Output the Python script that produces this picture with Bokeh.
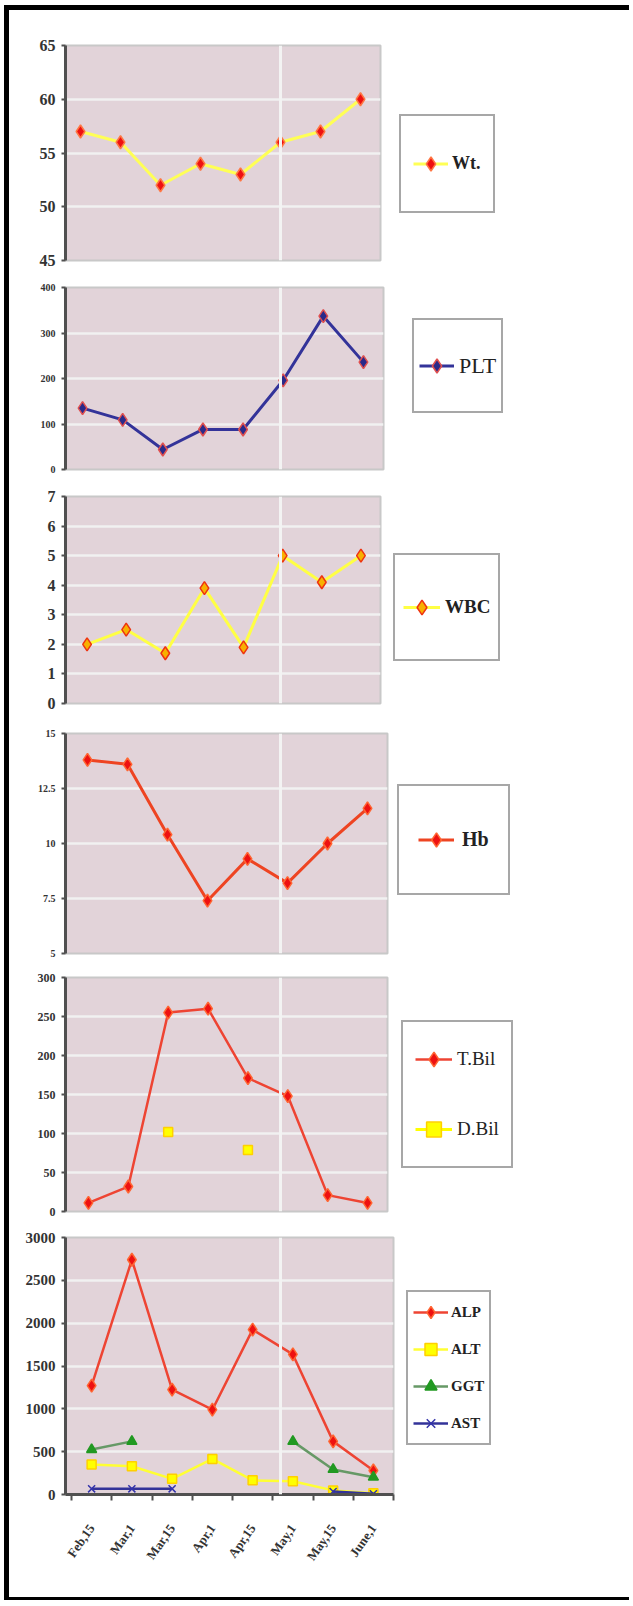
import math
from bokeh.plotting import figure
from bokeh.layouts import column, row
from bokeh.models import Legend, LegendItem, FixedTicker, Span, Div
from bokeh.embed import file_html
from bokeh.resources import INLINE

nan = float("nan")

# ---------------- data ----------------
dates = ["Feb,15", "Mar,1", "Mar,15", "Apr,1", "Apr,15", "May,1", "May,15", "June,1"]
wt = [57, 56, 52, 54, 53, 56, 57, 60]
plt_vals = [135, 109, 44, 88, 88, 196, 337, 236]
wbc = [2.0, 2.5, 1.7, 3.9, 1.9, 5.0, 4.1, 5.0]
hb = [13.8, 13.6, 10.4, 7.4, 9.3, 8.2, 10.0, 11.6]
tbil = [11, 32, 255, 260, 171, 148, 21, 11]
dbil = [nan, nan, 102, nan, 79, nan, nan, nan]
alp = [1270, 2740, 1225, 990, 1925, 1635, 620, 280]
alt = [350, 330, 183, 415, 165, 155, 48, 16]
ggt = [525, 620, nan, nan, nan, 620, 292, 202]
ast = [66, 66, 66, nan, nan, nan, 35, 8]

wt_ticks = [45, 50, 55, 60, 65]
plt_ticks = [0, 100, 200, 300, 400]
wbc_ticks = [0, 1, 2, 3, 4, 5, 6, 7]
hb_ticks = [5, 7.5, 10, 12.5, 15]
hb_tick_labels = ["5", "7.5", "10", "12.5", "15"]
bil_ticks = [0, 50, 100, 150, 200, 250, 300]
enz_ticks = [0, 500, 1000, 1500, 2000, 2500, 3000]

xs = [i + 0.5 for i in range(len(dates))]
NCAT = len(dates)

PAD_L, PAD_T = 4, 5          # white space left / above the black frame
BORDER = 5
OX, OY = PAD_L + BORDER, PAD_T + BORDER
FRAME_L = 65                 # common frame left (column aligns frames)
TOTAL_W = 620
SERIF = "Liberation Serif"
BG = "#e2d3d9"


def strip(w, h, color="black"):
    return Div(text="", width=w, height=h, margin=(0, 0, 0, 0),
               styles={"background-color": color})


def make_fig(ref_l, ref_r, top, frame_h, bottom, ticks, tick_size, labels=None):
    cw = (ref_r - ref_l) / NCAT
    frame_w = ref_r - FRAME_L
    p = figure(frame_width=frame_w, frame_height=frame_h,
               x_range=((FRAME_L - ref_l) / cw, (ref_r - ref_l) / cw),
               y_range=(ticks[0], ticks[-1]),
               output_backend="svg", toolbar_location=None,
               min_border_left=FRAME_L - OX, min_border_top=top,
               min_border_bottom=bottom,
               min_border_right=TOTAL_W - (FRAME_L - OX) - frame_w)
    p.background_fill_color = BG
    p.border_fill_color = "white"
    p.outline_line_color = "#c8c8c8"
    p.outline_line_width = 2
    p.xgrid.visible = False
    p.ygrid.grid_line_color = "#f1f1f1"
    p.ygrid.grid_line_width = 2.5
    p.ygrid.ticker = FixedTicker(ticks=ticks)
    ax = p.yaxis[0]
    ax.ticker = FixedTicker(ticks=ticks)
    if labels is not None:
        ax.major_label_overrides = {t: l for t, l in zip(ticks, labels)}
    ax.axis_line_color = "#505050"
    ax.axis_line_width = 3
    ax.major_tick_line_color = "#505050"
    ax.major_tick_line_width = 2
    ax.major_tick_out = 4
    ax.major_tick_in = 0
    ax.minor_tick_out = 0
    ax.minor_tick_in = 0
    ax.major_label_standoff = 6
    ax.major_label_text_font = SERIF
    ax.major_label_text_font_style = "bold"
    ax.major_label_text_font_size = f"{tick_size}px"
    ax.major_label_text_color = "#333333"
    p.xaxis.visible = False
    # white vertical streak of the scanned original
    p.add_layout(Span(location=(280 - ref_l) / cw, dimension="height",
                      line_color="#f3f3f3", line_width=3))
    return p


def add_legend(p, items, gap, vy, glyph_w, standoff, pad, h, spacing, size, style):
    leg = Legend(items=items, location=(gap, vy), glyph_width=glyph_w, glyph_height=h,
                 label_height=h, label_standoff=standoff, padding=pad, spacing=spacing,
                 margin=gap, border_line_color="#505050", border_line_width=2.5,
                 background_fill_color="white", background_fill_alpha=1.0,
                 label_text_font=SERIF, label_text_font_size=f"{size}px",
                 label_text_font_style=style, label_text_color="#222222")
    p.add_layout(leg, "right")


def series(p, vals, line_color, marker, fill, outline, size=12, lw=3):
    lr = p.line(xs, vals, line_color=line_color, line_width=lw)
    sr = p.scatter(xs, vals, marker=marker, size=size, fill_color=fill,
                   line_color=outline, line_width=1.5)
    return [lr, sr]


# ---- panel 1: Wt.   (frame 60-380 x 45-260)
p1 = make_fig(60, 380, 45 - OY, 215, 12, wt_ticks, 16)
r = series(p1, wt, "#ffff55", "diamond", "#ee1111", "#ff7744", size=13)
add_legend(p1, [LegendItem(label="Wt.", renderers=r)], 19, 47, 35, 4, 12, 71, 0, 18, "bold")

# ---- panel 2: PLT
p2 = make_fig(62, 383, 15, 182, 13, plt_ticks, 10)
r = series(p2, plt_vals, "#333399", "diamond", "#2a2a8a", "#e05050", size=13)
add_legend(p2, [LegendItem(label="PLT", renderers=r)], 29, 56, 35, 5, 5, 81, 0, 22, "normal")

# ---- panel 3: WBC
p3 = make_fig(67, 380, 14, 207, 13, wbc_ticks, 16)
r = series(p3, wbc, "#ffff44", "diamond", "#f8b000", "#ee3311", size=13)
add_legend(p3, [LegendItem(label="WBC", renderers=r)], 13, 42, 37, 5, 8, 88, 0, 19, "bold")

# ---- panel 4: Hb
p4 = make_fig(67, 387, 17, 220, 12, hb_ticks, 10, hb_tick_labels)
r = series(p4, hb, "#ee4422", "diamond", "#ee1111", "#ff6633", size=13)
add_legend(p4, [LegendItem(label="Hb", renderers=r)], 10, 58, 36, 8, 19, 69, 0, 20, "bold")

# ---- panel 5: T.Bil / D.Bil
p5 = make_fig(68, 387, 12, 234, 13, bil_ticks, 12)
r1 = series(p5, tbil, "#ee4433", "diamond", "#ee1111", "#ff6633", size=13, lw=2.5)
r2 = series(p5, dbil, "#ffff00", "square", "#ffff00", "#ffd000", size=9)
add_legend(p5, [LegendItem(label="T.Bil", renderers=r1), LegendItem(label="D.Bil", renderers=r2)],
           14, 43, 37, 5, 12, 50, 20, 19, "normal")

# ---- panel 6: enzymes
p6 = make_fig(71, 393, 13, 257, 10, enz_ticks, 15)
ra = series(p6, alp, "#ee4433", "diamond", "#ee1111", "#ff6633", size=13, lw=2.5)
rl = series(p6, alt, "#ffff33", "square", "#ffff00", "#ffd000", size=9, lw=2.5)
rg = series(p6, ggt, "#669966", "triangle", "#229922", "#229922", size=10, lw=2.5)
rs = series(p6, ast, "#333399", "x", "#3333aa", "#3333aa", size=10, lw=2.5)
add_legend(p6, [LegendItem(label="ALP", renderers=ra), LegendItem(label="ALT", renderers=rl),
                LegendItem(label="GGT", renderers=rg), LegendItem(label="AST", renderers=rs)],
           13, 49, 35, 3, 5, 30, 7, 15, "bold")
xa = p6.xaxis[0]
xa.visible = True
xa.ticker = FixedTicker(ticks=[], minor_ticks=list(range(NCAT + 1)))
xa.major_tick_out = 0
xa.major_tick_in = 0
xa.minor_tick_out = 6
xa.minor_tick_in = 0
xa.minor_tick_line_color = "#505050"
xa.minor_tick_line_width = 2
xa.axis_line_color = "#505050"
xa.axis_line_width = 3

# ---- date labels: an empty strip sharing panel 6's x scale
frame_w6 = p6.frame_width
p7 = figure(frame_width=frame_w6, frame_height=17, x_range=p6.x_range, y_range=(0, 1),
            output_backend="svg", toolbar_location=None,
            min_border_left=FRAME_L - OX, min_border_top=0, min_border_bottom=76,
            min_border_right=TOTAL_W - (FRAME_L - OX) - frame_w6)
p7.background_fill_color = "white"
p7.border_fill_color = "white"
p7.outline_line_color = None
p7.grid.visible = False
p7.yaxis.visible = False
xl = p7.xaxis[0]
xl.ticker = FixedTicker(ticks=xs)
xl.major_label_overrides = {x: d for x, d in zip(xs, dates)}
xl.axis_line_color = None
xl.major_tick_line_color = None
xl.minor_tick_line_color = None
xl.major_tick_out = 0
xl.major_tick_in = 0
xl.minor_tick_out = 0
xl.minor_tick_in = 0
xl.major_label_orientation = math.radians(55)
xl.major_label_standoff = 4
xl.major_label_text_font = SERIF
xl.major_label_text_font_style = "bold"
xl.major_label_text_font_size = "13px"
xl.major_label_text_color = "#333333"

figs = [p1, p2, p3, p4, p5, p6, p7]
H = sum(f.min_border_top + f.frame_height + f.min_border_bottom for f in figs)
ROW_W = TOTAL_W + BORDER
framed = column(strip(ROW_W, BORDER),
                row(strip(BORDER, H), column(*figs, spacing=0), spacing=0),
                strip(ROW_W, 3), spacing=0)
layout = row(strip(PAD_L, 1, "white"),
             column(strip(10, PAD_T, "white"), framed, spacing=0),
             spacing=0)

open("out.html", "w").write(file_html(layout, INLINE))
